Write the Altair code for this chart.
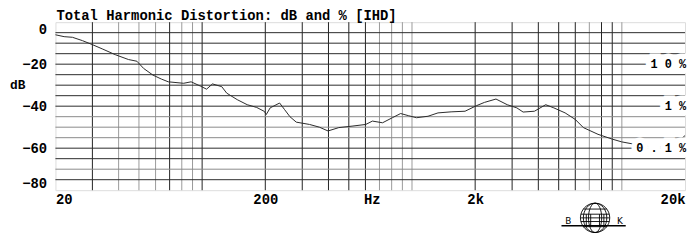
import altair as alt
import pandas as pd

# ---- data ----
freq_hz = [20, 22, 24.1, 26.9, 30, 33.4, 38.6, 44.6, 48.9, 52.6, 58.3, 64, 69, 81.6, 88.6,
           98, 105, 112, 124, 131, 147, 164, 182, 198, 202, 211, 234, 247, 262, 281,
           325, 362, 398, 448, 518, 602, 648, 724, 806, 883, 960, 1051, 1192, 1330,
           1536, 1790, 2025, 2215, 2513, 2844, 3159, 3385, 3832, 4338, 4740, 5366,
           5996, 6557, 7697, 9009, 9987, 11450, 12790, 14500, 16500, 18500, 20000]
thd_db = [-6.0, -6.9, -7.2, -8.8, -10.7, -12.7, -15.5, -17.8, -18.6, -22.0, -25.2, -27.1,
          -28.4, -29.1, -28.4, -30.4, -31.9, -29.4, -30.7, -33.8, -36.9, -39.3, -40.6,
          -42.5, -44.0, -40.8, -38.5, -41.6, -45.0, -47.6, -48.7, -50.0, -51.8, -50.2,
          -49.5, -48.7, -47.1, -47.9, -45.5, -43.5, -44.5, -45.5, -44.8, -43.2, -42.7,
          -42.4, -39.8, -38.2, -36.6, -39.3, -40.8, -42.8, -42.4, -39.3, -40.8, -43.2,
          -46.3, -50.2, -53.4, -55.7, -57.0, -58.1, -58.9, -59.5, -59.0, -57.0, -54.0]

grid_dark_hz = [30, 70, 100, 200, 300, 400, 500, 600, 2000, 3000, 4000, 5000, 6000, 8000, 9000]
grid_light_hz = [40, 50, 60, 80, 90, 700, 800, 900, 1000, 7000, 10000]
grid_dark_db = [-5, -10, -15, -20, -25, -30, -35, -40, -60, -65, -75]
grid_light_db = [-45, -50, -55, -70]

y_tick_db = [0, -20, -40, -60, -80]
x_tick_hz = [20, 200, 643, 2000, 20000]
x_tick_text = ["20", "200", "Hz", "2k", "20k"]

pct_db = [-20, -40, -60]
pct_text = ["1 0 %", "1 %", "0 . 1 %"]

title_text = "Total Harmonic Distortion: dB and % [IHD]"
ylabel_text = "dB"
ylabel_db = -30
logo_left = "B"
logo_right = "K"

# ---- chart ----
FONT = "Liberation Mono"

label_expr = "".join(
    f"datum.value == {v} ? '{t}' : " for v, t in zip(x_tick_hz, x_tick_text)
) + "''"

xs = alt.Scale(type="log", domain=[20, 20000], nice=False)
ys = alt.Scale(domain=[-80, 0], nice=False, zero=False)

ax_x = alt.Axis(values=x_tick_hz, labelExpr=label_expr, grid=False, ticks=False,
                domain=False, labelFlush=True, labelFont=FONT, labelFontWeight="bold",
                labelFontSize=14, labelColor="black", labelPadding=2,
                labelOverlap=False, title=None)
ax_y = alt.Axis(values=y_tick_db, grid=False, ticks=False, domain=False,
                labelFlush=True, labelFont=FONT, labelFontWeight="bold",
                labelFontSize=14, labelColor="black", labelPadding=9, title=None)

X = lambda f: alt.X(f, type="quantitative", scale=xs, axis=ax_x)
Y = lambda f: alt.Y(f, type="quantitative", scale=ys, axis=ax_y)

curve_df = pd.DataFrame({"f": freq_hz, "db": thd_db})

vlight = alt.Chart(pd.DataFrame({"f": grid_light_hz})).mark_rule(
    color="#9a9a9a", strokeWidth=1).encode(x=X("f"))
vdark = alt.Chart(pd.DataFrame({"f": grid_dark_hz})).mark_rule(
    color="#222222", strokeWidth=1).encode(x=X("f"))
hlight = alt.Chart(pd.DataFrame({"db": grid_light_db})).mark_rule(
    color="#8a8a8a", strokeWidth=1).encode(y=Y("db"))
hdark = alt.Chart(pd.DataFrame({"db": grid_dark_db})).mark_rule(
    color="#2a2a2a", strokeWidth=1).encode(y=Y("db"))

curve = alt.Chart(curve_df).mark_line(color="#2a2a2a", strokeWidth=1).encode(
    x=X("f"), y=Y("db"))

pct_df = pd.DataFrame({"db": pct_db, "t": pct_text})
pct_halo = alt.Chart(pct_df).mark_text(
    align="right", baseline="middle", font=FONT, fontSize=12, fontWeight="bold",
    color="white", stroke="white", strokeWidth=11, dx=1).encode(
    x=alt.X(datum=20000, scale=xs, axis=ax_x), y=Y("db"), text="t:N")
pct = alt.Chart(pct_df).mark_text(
    align="right", baseline="middle", font=FONT, fontSize=12, fontWeight="bold",
    color="black", dx=1).encode(
    x=alt.X(datum=20000, scale=xs, axis=ax_x), y=Y("db"), text="t:N")

ylab = alt.Chart(pd.DataFrame({"db": [ylabel_db], "t": [ylabel_text]})).mark_text(
    align="left", baseline="middle", font=FONT, fontSize=13, fontWeight="bold",
    color="black").encode(x=alt.value(-46), y=Y("db"), text="t:N")

title = alt.Chart(alt.Data(values=[{"t": title_text}])).mark_text(
    align="left", baseline="alphabetic", font=FONT, fontSize=14, fontWeight="bold",
    color="black").encode(x=alt.value(1), y=alt.value(-2.5), text="t:N")

globe_path = ("M -1 0 A 1 1 0 1 1 1 0 A 1 1 0 1 1 -1 0 Z "
              "M 0 -1 A 0.45 1 0 1 1 0 1 A 0.45 1 0 1 1 0 -1 "
              "M 0 -1 A 0.8 1 0 1 1 0 1 A 0.8 1 0 1 1 0 -1 "
              "M -0.8 -0.6 L 0.8 -0.6 M -0.97 -0.25 L 0.97 -0.25 "
              "M -1 0 L 1 0 M -0.97 0.25 L 0.97 0.25 M -0.8 0.6 L 0.8 0.6 "
              "M -0.6 -0.25 L -0.6 0.6 M -0.3 -0.25 L -0.3 0.6 "
              "M 0.3 -0.25 L 0.3 0.6 M 0.6 -0.25 L 0.6 0.6")
globe = alt.Chart(alt.Data(values=[{"k": 1}])).mark_point(
    shape=globe_path, filled=False, color="black", strokeWidth=0.9, size=880,
    opacity=1).encode(x=alt.value(546), y=alt.value(198))
logo_line = alt.Chart(alt.Data(values=[{"k": 1}])).mark_rule(
    color="black", strokeWidth=1.5).encode(
    x=alt.value(512), x2=alt.value(577), y=alt.value(206))
logo_txt = alt.Chart(alt.Data(values=[{"t": logo_left, "p": 519},
                                      {"t": logo_right, "p": 571}])).mark_text(
    align="center", baseline="middle", font="DejaVu Sans", fontSize=9,
    color="black").encode(x=alt.X("p:Q", scale=None), y=alt.value(201), text="t:N")

chart = alt.layer(vlight, vdark, hlight, hdark, curve, pct_halo, pct, ylab, title,
                  globe, logo_line, logo_txt).properties(
    width=637, height=170,
    autosize=alt.AutoSizeParams(type="none"),
    padding={"left": 48, "top": 13, "right": 2, "bottom": 44},
).configure_view(stroke="black", strokeWidth=1.5).configure(background="white")

chart.save("out.html", embed_options={"renderer": "svg", "actions": False})
